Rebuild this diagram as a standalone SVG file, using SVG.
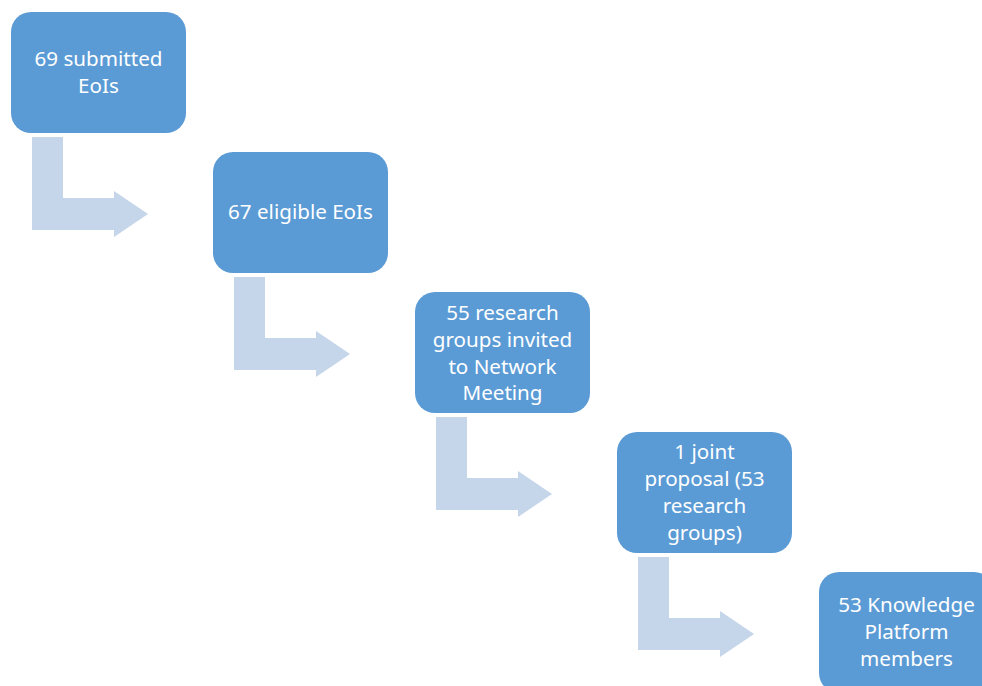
<svg xmlns="http://www.w3.org/2000/svg" width="982" height="686" viewBox="0 0 982 686">
<defs>
<style>
.box{fill:#5B9BD5}
.arr{fill:#C5D5EA}
.t{fill:#FFFFFF;font-family:"Noto Sans","Open Sans",sans-serif;font-size:20.6px;text-anchor:middle}
</style>
<path id="bent" d="M0,0 H31 V61 H82 V54 L116,77 L82,100 V93 H0 Z"/>
</defs>
<rect width="982" height="686" fill="#FFFFFF"/>
<g id="connectors">
<use href="#bent" class="arr" x="32" y="137"/>
<use href="#bent" class="arr" x="234" y="277"/>
<use href="#bent" class="arr" x="436" y="417"/>
<use href="#bent" class="arr" x="638" y="557"/>
</g>
<g id="n1">
<rect class="box" x="11" y="12" width="175" height="121" rx="20"/>
<text class="t" x="98.5" y="66">69 submitted</text>
<text class="t" x="98.5" y="93">EoIs</text>
</g>
<g id="n2">
<rect class="box" x="213" y="152" width="175" height="121" rx="20"/>
<text class="t" x="300.5" y="219">67 eligible EoIs</text>
</g>
<g id="n3">
<rect class="box" x="415" y="292" width="175" height="121" rx="20"/>
<text class="t" x="502.5" y="320">55 research</text>
<text class="t" x="502.5" y="347">groups invited</text>
<text class="t" x="502.5" y="374">to Network</text>
<text class="t" x="502.5" y="400">Meeting</text>
</g>
<g id="n4">
<rect class="box" x="617" y="432" width="175" height="121" rx="20"/>
<text class="t" x="704.5" y="459">1 joint</text>
<text class="t" x="704.5" y="486">proposal (53</text>
<text class="t" x="704.5" y="513">research</text>
<text class="t" x="704.5" y="540">groups)</text>
</g>
<g id="n5">
<rect class="box" x="819" y="572" width="175" height="121" rx="20"/>
<text class="t" x="906.5" y="612">53 Knowledge</text>
<text class="t" x="906.5" y="639">Platform</text>
<text class="t" x="906.5" y="666">members</text>
</g>
</svg>
